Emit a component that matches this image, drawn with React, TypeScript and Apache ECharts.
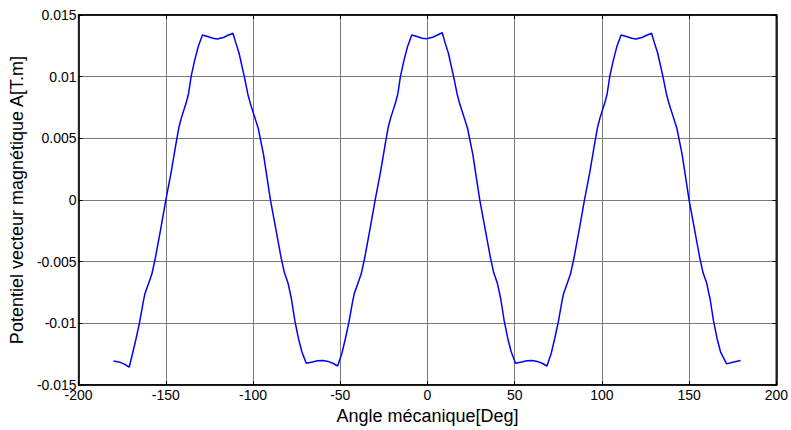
import React, { useEffect, useRef } from "react";
import * as echarts from "echarts";

const xTicks = [-200, -150, -100, -50, 0, 50, 100, 150, 200];
const yTicks = [-0.015, -0.01, -0.005, 0, 0.005, 0.01, 0.015];

// Angle (deg) / vector potential (T.m)
const wave1: [number, number][] = [
  [-180, -0.01305], [-177, -0.01312], [-174, -0.01328], [-171, -0.01355], [-169, -0.0124],
  [-167, -0.0112], [-165, -0.0099], [-163, -0.0083], [-162, -0.0076], [-160, -0.0068],
  [-158, -0.006], [-156, -0.0047], [-153, -0.0024], [-150, 0.0], [-147, 0.0022],
  [-144.5, 0.0043], [-142.5, 0.0059], [-141, 0.0067], [-138.5, 0.0078], [-137, 0.0086],
  [-135.5, 0.01], [-133.5, 0.0113], [-131.5, 0.0124], [-129, 0.01338], [-126, 0.01325],
  [-123, 0.01312], [-120.5, 0.01306], [-117, 0.01318], [-114, 0.01338], [-111.5, 0.01352],
  [-110, 0.0128], [-108, 0.0119], [-105, 0.01], [-103, 0.0086], [-101.5, 0.0078],
  [-99, 0.0067], [-97, 0.0058], [-94, 0.0037], [-90, 0.0], [-87, -0.0023],
  [-84, -0.0046], [-82, -0.0059], [-80, -0.0067], [-78, -0.008], [-76, -0.0098],
  [-74, -0.0112], [-72, -0.0123], [-69.5, -0.01323], [-66, -0.01313], [-63, -0.01303],
  [-60, -0.013], [-57, -0.01308], [-54, -0.01325], [-51.5, -0.01345],
];
const wave2: [number, number][] = [
  [-49, -0.0124], [-47, -0.0112], [-45, -0.0099], [-43, -0.0083], [-42, -0.0076],
  [-40, -0.0068], [-38, -0.006], [-36, -0.0047], [-33, -0.0024], [-30, 0.0],
  [-27, 0.0022], [-24.5, 0.0043], [-22.5, 0.0059], [-21, 0.0067], [-18.5, 0.0078],
  [-17, 0.0086], [-15.5, 0.01], [-13.5, 0.0113], [-11.5, 0.0124], [-9, 0.01338],
  [-6, 0.01325], [-3, 0.01312], [-0.5, 0.01308], [3, 0.0132], [6, 0.0134],
  [8.5, 0.01356], [10, 0.0128], [12, 0.0119], [15, 0.01], [17, 0.0086],
  [18.5, 0.0078], [21, 0.0067], [23, 0.0058], [26, 0.0037], [30, 0.0],
  [33, -0.0023], [36, -0.0046], [38, -0.0059], [40, -0.0067], [42, -0.008],
  [44, -0.0098], [46, -0.0112], [48, -0.0123], [50.5, -0.01323], [54, -0.01313],
  [57, -0.01303], [60, -0.013], [63, -0.01308], [66, -0.01325], [68.5, -0.01345],
];
const wave3: [number, number][] = [
  [71, -0.0124], [73, -0.0112], [75, -0.0099], [77, -0.0083], [78, -0.0076],
  [80, -0.0068], [82, -0.006], [84, -0.0047], [87, -0.0024], [90, 0.0],
  [93, 0.0022], [95.5, 0.0043], [97.5, 0.0059], [99, 0.0067], [101.5, 0.0078],
  [103, 0.0086], [104.5, 0.01], [106.5, 0.0113], [108.5, 0.0124], [111, 0.01338],
  [114, 0.01325], [117, 0.01312], [119.5, 0.01306], [123, 0.01318], [126, 0.01338],
  [128.5, 0.01352], [130, 0.0128], [132, 0.0119], [135, 0.01], [137, 0.0086],
  [138.5, 0.0078], [141, 0.0067], [143, 0.0058], [146, 0.0037], [150, 0.0],
  [153, -0.0023], [156, -0.0046], [158, -0.0059], [160, -0.0067], [162, -0.008],
  [164, -0.0098], [166, -0.0112], [168, -0.0123], [171.5, -0.01328], [175, -0.01315],
  [179.5, -0.013],
];

const FONT = "'Liberation Sans', Arial, sans-serif";

export default function App() {
  const ref = useRef<HTMLDivElement>(null);
  useEffect(() => {
    if (!ref.current) return;
    const chart = echarts.init(ref.current, undefined, { renderer: "svg" });
    const data = [...wave1, ...wave2, ...wave3];
    const gridLine = { show: true, lineStyle: { color: "#7a7a7a", width: 1, type: "solid" as const } };
    const fmtY = (v: number) => String(parseFloat(v.toFixed(4)));
    chart.setOption({
      animation: false,
      backgroundColor: "#ffffff",
      textStyle: { fontFamily: FONT },
      grid: { left: 77, right: 11, top: 15, bottom: 43, show: true, borderColor: "#000", borderWidth: 1.5 },
      xAxis: [
        {
          type: "value",
          min: xTicks[0],
          max: xTicks[xTicks.length - 1],
          interval: 50,
          name: "Angle mécanique[Deg]",
          nameLocation: "middle",
          nameGap: 20,
          nameTextStyle: { fontSize: 18, color: "#000", fontFamily: FONT },
          axisLine: { show: true, onZero: false, lineStyle: { color: "#000", width: 1.5 } },
          axisTick: { show: true, inside: true, length: 4, lineStyle: { color: "#000" } },
          axisLabel: { fontSize: 14, color: "#000", margin: 3, fontFamily: FONT },
          splitLine: gridLine,
        },
        {
          type: "value",
          position: "top",
          min: xTicks[0],
          max: xTicks[xTicks.length - 1],
          interval: 50,
          axisLine: { show: true, onZero: false, lineStyle: { color: "#000", width: 1.5 } },
          axisTick: { show: true, inside: true, length: 4, lineStyle: { color: "#000" } },
          axisLabel: { show: false },
          splitLine: { show: false },
        },
      ],
      yAxis: [
        {
          type: "value",
          min: yTicks[0],
          max: yTicks[yTicks.length - 1],
          interval: 0.005,
          name: "Potentiel vecteur magnétique A[T.m]",
          nameLocation: "middle",
          nameGap: 48,
          nameTextStyle: { fontSize: 18, color: "#000", fontFamily: FONT },
          axisLine: { show: true, onZero: false, lineStyle: { color: "#000", width: 1.5 } },
          axisTick: { show: true, inside: true, length: 4, lineStyle: { color: "#000" } },
          axisLabel: { fontSize: 14, color: "#000", margin: 2, formatter: fmtY, fontFamily: FONT },
          splitLine: gridLine,
        },
        {
          type: "value",
          position: "right",
          min: yTicks[0],
          max: yTicks[yTicks.length - 1],
          interval: 0.005,
          axisLine: { show: true, onZero: false, lineStyle: { color: "#000", width: 1.5 } },
          axisTick: { show: true, inside: true, length: 4, lineStyle: { color: "#000" } },
          axisLabel: { show: false },
          splitLine: { show: false },
        },
      ],
      series: [
        {
          type: "line",
          data,
          showSymbol: false,
          symbol: "none",
          smooth: false,
          lineStyle: { color: "#0000ff", width: 1.5 },
        },
      ],
    });
    return () => chart.dispose();
  }, []);
  return <div ref={ref} style={{ width: 791, height: 430, position: "absolute", left: 0, top: 0 }} />;
}
